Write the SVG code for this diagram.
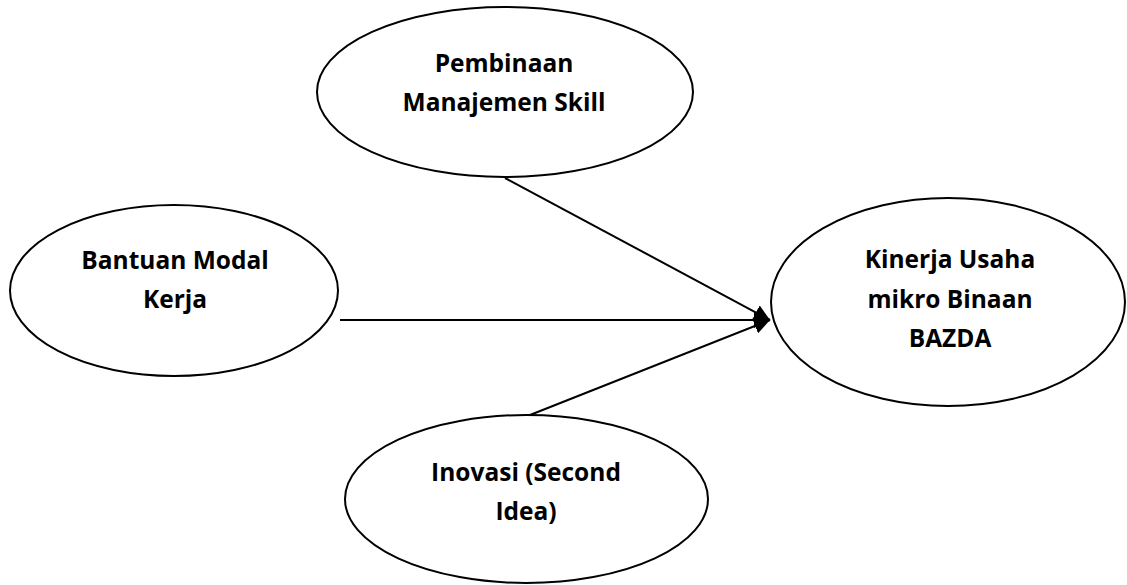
<svg xmlns="http://www.w3.org/2000/svg" width="1127" height="585" viewBox="0 0 1127 585">
<style>
.node ellipse{fill:#fff;stroke:#000;stroke-width:2}
.node text{font-family:"Open Sans","Liberation Sans",sans-serif;font-weight:bold;font-size:24.5px;fill:#000;text-anchor:middle}
.edge{stroke:#000;stroke-width:2;fill:none;marker-end:url(#arrow)}
</style>
<defs>
<marker id="arrow" markerUnits="userSpaceOnUse" markerWidth="17" markerHeight="16" refX="16" refY="8" orient="auto">
<path d="M0,0 L16,8 L0,16 Z" fill="#000"/>
</marker>
</defs>
<rect width="1127" height="585" fill="#fff"/>
<g id="connectors">
<line class="edge" x1="505" y1="178" x2="770" y2="320"/>
<line class="edge" x1="340" y1="320" x2="770" y2="320"/>
<line class="edge" x1="530" y1="415" x2="770" y2="320"/>
</g>
<g id="node-pembinaan" class="node">
<ellipse cx="505" cy="92" rx="188" ry="85"/>
<text x="504" y="72">Pembinaan</text>
<text x="504" y="111">Manajemen Skill</text>
</g>
<g id="node-bantuan" class="node">
<ellipse cx="174" cy="290.5" rx="164" ry="85.5"/>
<text x="175" y="269">Bantuan Modal</text>
<text x="175" y="308">Kerja</text>
</g>
<g id="node-kinerja" class="node">
<ellipse cx="948" cy="302" rx="177" ry="104"/>
<text x="950" y="268">Kinerja Usaha</text>
<text x="950" y="308">mikro Binaan</text>
<text x="950" y="347">BAZDA</text>
</g>
<g id="node-inovasi" class="node">
<ellipse cx="526.5" cy="499" rx="181.5" ry="84"/>
<text x="526" y="481">Inovasi (Second</text>
<text x="526" y="520">Idea)</text>
</g>
</svg>
